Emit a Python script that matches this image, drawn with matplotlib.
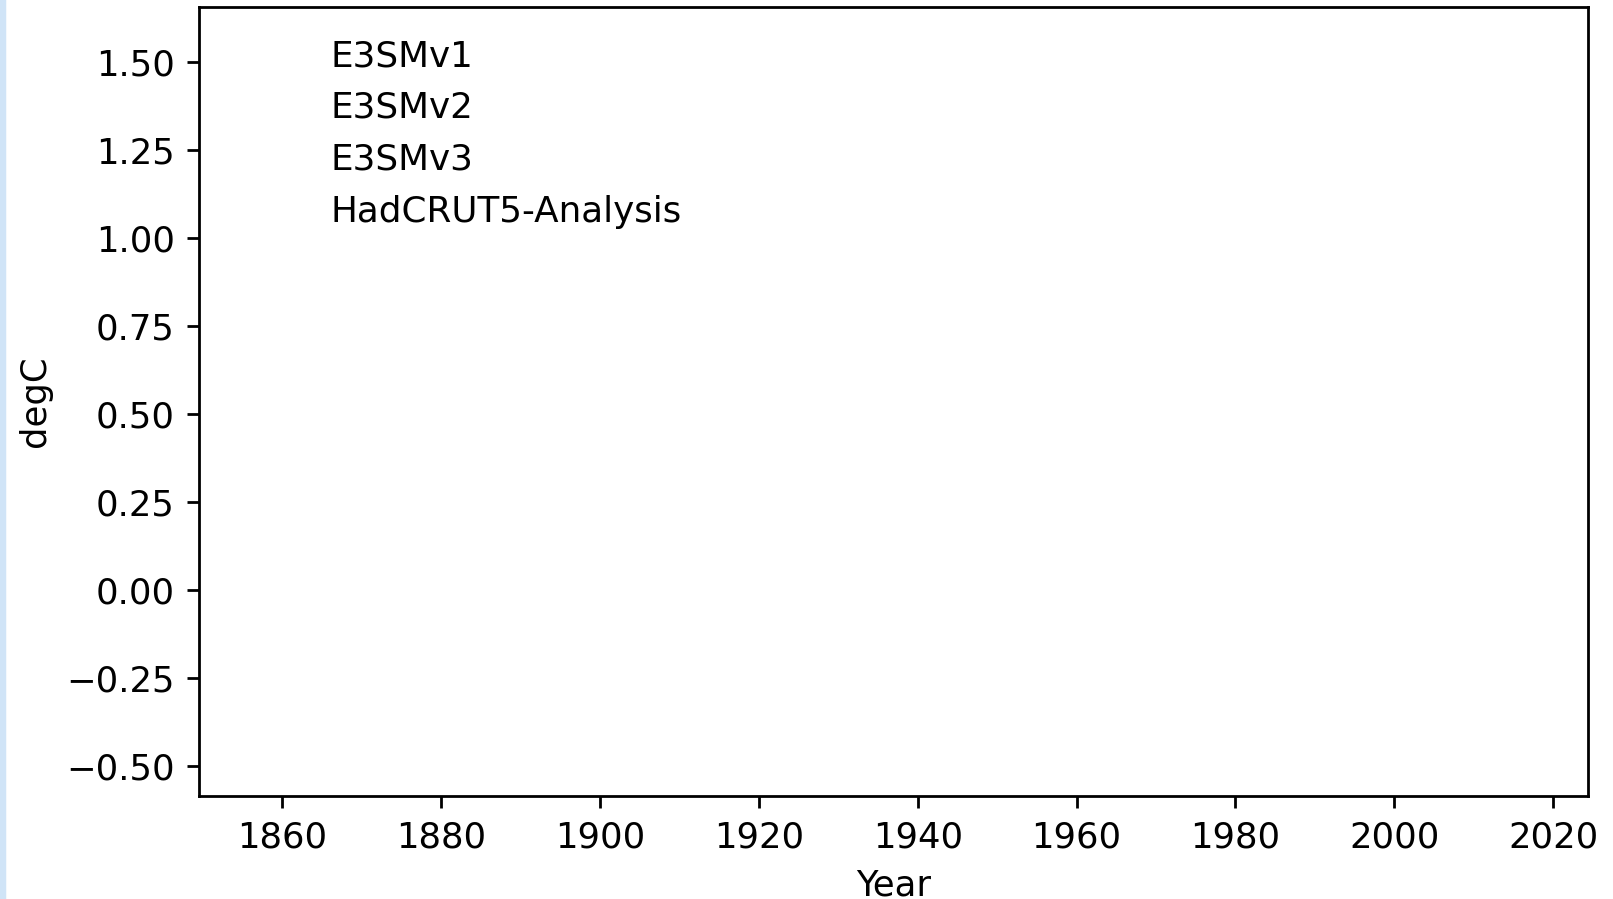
import matplotlib
matplotlib.use("Agg")
import matplotlib.pyplot as plt
from matplotlib.patches import Rectangle

# series names shown in the upper-left of the panel
models = ["E3SMv1", "E3SMv2", "E3SMv3", "HadCRUT5-Analysis"]

year_ticks = [1860, 1880, 1900, 1920, 1940, 1960, 1980, 2000, 2020]
temp_ticks = [-0.50, -0.25, 0.00, 0.25, 0.50, 0.75, 1.00, 1.25, 1.50]
year_range = (1849.5, 2024.4)
temp_range = (-0.586, 1.657)

plt.rcParams["font.size"] = 10.2

W, H, DPI = 1613, 899, 250
fig = plt.figure(figsize=(W / DPI, H / DPI), dpi=DPI)
fig.patches.append(Rectangle((0, 0), 3.5 / W, 1, transform=fig.transFigure,
                             color="#d0e4f7", zorder=0))

ax = fig.add_axes([199 / W, (H - 796) / H, (1588 - 199) / W, (796 - 7) / H])
ax.set_xlim(*year_range)
ax.set_ylim(*temp_range)
ax.set_xticks(year_ticks)
ax.set_yticks(temp_ticks)
ax.set_xlabel("Year")
ax.set_ylabel("degC")

y0, step = 0.9252, 0.0657
for i, name in enumerate(models):
    ax.text(0.0945, y0 - i * step, name, transform=ax.transAxes,
            ha="left", va="baseline", fontsize=10.3)

fig.savefig("out.png", dpi=DPI)
